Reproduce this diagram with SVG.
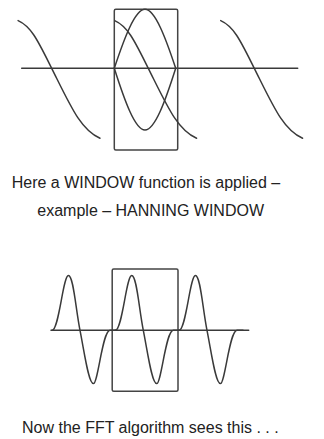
<svg xmlns="http://www.w3.org/2000/svg" width="324" height="439" viewBox="0 0 324 439">
<style>
.ln{fill:none;stroke:#3a3a3a;stroke-width:1.5;stroke-linecap:round;stroke-linejoin:round}
.bx{fill:none;stroke:#444;stroke-width:1.5}
.tx{font-family:"Liberation Sans",Arial,sans-serif;font-size:16px;fill:#222}
</style>
<defs>
<path id="seg" d="M-33.6,-47.7 C-20.2,-41.8 -13.4,-26.8 0,0 C19.3,38.6 29,61.5 48.3,70"/>
<path id="pulse" d="M-28,0 C-21,0 -17,-54.7 -11.6,-54.7 C-6.5,-54.7 -4.4,-22 0,0 C4.4,22 8.5,53.3 13.4,53.3 C18,53.3 22.5,0 30,0 H36"/>
</defs>
<rect id="background" x="0" y="0" width="324" height="439" fill="#fff"/>
<g id="top-plot">
<line class="ln" x1="21.7" y1="68.3" x2="297.7" y2="68.3"/>
<rect class="bx" x="114.3" y="9.3" width="63.4" height="140.7" rx="1.5"/>
<use class="ln" href="#seg" transform="translate(51.7,68.3)"/>
<use class="ln" href="#seg" transform="translate(148.3,68.3)"/>
<use class="ln" href="#seg" transform="translate(254.3,68.3)"/>
<path class="ln" d="M114.3,68.3 C124.3,38.1 135,9.3 145,9.3 C155,9.3 165.7,38.1 175.7,68.3"/>
<path class="ln" d="M114.3,68.3 C124.3,99.9 135,130 145,130 C155,130 165.7,99.9 175.7,68.3"/>
</g>
<g id="caption-1">
<text class="tx" x="11.7" y="187.5">Here a WINDOW function is applied –</text>
<text class="tx" x="37.3" y="216">example – HANNING WINDOW</text>
</g>
<g id="bottom-plot">
<line class="ln" x1="51" y1="330.3" x2="248.7" y2="330.3"/>
<rect class="bx" x="112.2" y="269" width="65.8" height="122.3" rx="1.5"/>
<use class="ln" href="#pulse" transform="translate(80,330.3)"/>
<use class="ln" href="#pulse" transform="translate(143.3,330.3)"/>
<use class="ln" href="#pulse" transform="translate(207,330.3)"/>
</g>
<g id="caption-2">
<text class="tx" x="22" y="433">Now the FFT algorithm sees this . . .</text>
</g>
</svg>
